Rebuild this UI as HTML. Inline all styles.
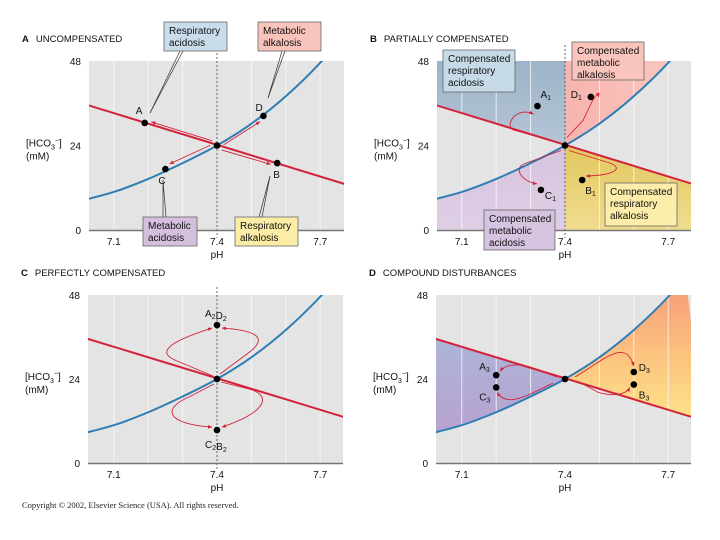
<!DOCTYPE html>
<html><head><meta charset="utf-8"><style>
body{margin:0;background:#fff;}
svg{display:block;font-family:"Liberation Sans",sans-serif;}
</style></head><body>
<svg id="fig" width="720" height="540" viewBox="0 0 720 540">
<defs>
<marker id="ah" viewBox="0 0 10 10" refX="9" refY="5" markerWidth="5" markerHeight="5" orient="auto"><path d="M0,1 L10,5 L0,9 z" fill="#d3223a"/></marker>
<linearGradient id="gBlueD" x1="0" y1="0" x2="0" y2="1"><stop offset="0" stop-color="#a7c0dd"/><stop offset="1" stop-color="#b7a2d0"/></linearGradient>
<linearGradient id="gOrD" x1="0" y1="0" x2="0" y2="1"><stop offset="0" stop-color="#f7957a"/><stop offset="0.5" stop-color="#fbc27e"/><stop offset="1" stop-color="#feeb8c"/></linearGradient>
<linearGradient id="gPinkB" x1="0" y1="0" x2="1" y2="0"><stop offset="0" stop-color="#f6948e"/><stop offset="1" stop-color="#f9c9c2"/></linearGradient>
<linearGradient id="gBlueB" x1="0" y1="0" x2="0" y2="1"><stop offset="0" stop-color="#9db3c8"/><stop offset="1" stop-color="#b4c6d6"/></linearGradient>
<linearGradient id="gYelB" x1="0" y1="0" x2="0" y2="1"><stop offset="0" stop-color="#e3c860"/><stop offset="1" stop-color="#efdc8e"/></linearGradient>
<linearGradient id="gPurB" x1="0" y1="0" x2="0" y2="1"><stop offset="0" stop-color="#cdb6d6"/><stop offset="1" stop-color="#e0d1e6"/></linearGradient>
</defs>
<g id="root"></g>
<text x="22" y="508" font-family="Liberation Serif, serif" font-size="8.5" fill="#222">Copyright © 2002, Elsevier Science (USA).  All rights reserved.</text>
</svg>
<script>
// ---- data ----
const phTicks = [7.1, 7.4, 7.7];
const gridPH = [7.1, 7.2, 7.3, 7.5, 7.6, 7.7];
const yTicks = [0, 24, 48];
const isobarPH = [7.0, 7.1, 7.2, 7.3, 7.4, 7.5, 7.6, 7.7, 7.75];
const isobarHCO3 = [8.2, 10.8, 14.5, 19.0, 24, 30.2, 38.0, 47.5, 53.7];
const bufferPH = [7.0, 7.8];
const bufferHCO3 = [36.2, 12.2];
const normalPH = 7.4, normalHCO3 = 24;
const ptsA = {labels:['A','B','C','D'], ph:[7.19,7.575,7.25,7.535], hco3:[30.4,19.0,17.3,32.4]};
const ptsB = {labels:['A1','B1','C1','D1'], ph:[7.32,7.45,7.33,7.475], hco3:[35.2,14.2,11.4,37.8]};
const ptsC = {labels:['A2D2','C2B2'], ph:[7.4,7.4], hco3:[39.4,9.4]};
const ptsD = {labels:['A3','B3','C3','D3'], ph:[7.2,7.6,7.2,7.6], hco3:[25.1,22.4,21.6,26.0]};

const NS='http://www.w3.org/2000/svg';
const root=document.getElementById('root');
function el(tag,attrs,parent){const e=document.createElementNS(NS,tag);for(const k in attrs)e.setAttribute(k,attrs[k]);(parent||root).appendChild(e);return e;}
const RED='#d3223a', BLUE='#2f7db5';

function makePanel(P){
  const g=el('g',{});
  
  
  const sx=ph=>P.c+(ph-7.4)*344;
  const sy=v=>P.b-v*(P.b-P.t)/48;
  P.sx=sx;P.sy=sy;
  const cp=el('clipPath',{id:'clip'+P.id},g);
  el('rect',{x:P.l,y:P.t,width:P.r-P.l,height:P.b-P.t},cp);
  const bg=el('rect',{x:P.l,y:P.t,width:P.r-P.l,height:P.b-P.t,fill:'#e4e4e4'},g);
  
  
  const inner=el('g',{'clip-path':'url(#clip'+P.id+')'},g);
  P.inner=inner;
  const iso=isobarPH.map((p,i)=>[sx(p),sy(isobarHCO3[i])]);
  const bl=[[sx(bufferPH[0]),sy(bufferHCO3[0])],[sx(bufferPH[1]),sy(bufferHCO3[1])]];
  P.iso=iso;P.bl=bl;
  const smooth=pts=>{let d='M'+pts[0][0]+','+pts[0][1];for(let i=1;i<pts.length;i++){const p0=pts[i-1],p1=pts[i];const pm=pts[i-2]||p0,pn=pts[i+1]||p1;const c1=[p0[0]+(p1[0]-pm[0])/6,p0[1]+(p1[1]-pm[1])/6],c2=[p1[0]-(pn[0]-p0[0])/6,p1[1]-(pn[1]-p0[1])/6];d+=' C'+c1+' '+c2+' '+p1;}return d;};
  P.isoD=smooth(iso);
  if(P.shade)P.shade(P,inner,sx,sy);
  gridPH.forEach(p=>{const l=el('line',{x1:sx(p),x2:sx(p),y1:P.t,y2:P.b,stroke:'#fafafa','stroke-width':1,opacity:0.8},inner);
    });
  if(P.dash){const d=el('line',{x1:sx(7.4),x2:sx(7.4),y1:P.dashTop||P.t-8,y2:P.b+8,stroke:'#444','stroke-width':0.8,'stroke-dasharray':'2,2'},g);
    }
  const bline=el('line',{x1:bl[0][0],y1:bl[0][1],x2:bl[1][0],y2:bl[1][1],stroke:RED,'stroke-width':2},inner);
  
  const ipath=el('path',{d:P.isoD,fill:'none',stroke:BLUE,'stroke-width':2},inner);
  
  const ax=el('line',{x1:P.l,x2:P.r,y1:P.b+0.5,y2:P.b+0.5,stroke:'#777','stroke-width':1.5},g);
  
  phTicks.forEach(p=>{const t=el('text',{x:sx(p),y:P.b+15,'font-size':10,'text-anchor':'middle',fill:'#111'},g);t.textContent=p.toFixed(1);
    });
  const xl=el('text',{x:sx(7.4),y:P.b+28,'font-size':10,'text-anchor':'middle',fill:'#111'},g);xl.textContent='pH';
  
  yTicks.forEach(v=>{const t=el('text',{x:P.l-8,y:sy(v)+4,'font-size':10,'text-anchor':'end',fill:'#111'},g);t.textContent=v;
    });
  const yl=el('text',{x:P.l-63,y:sy(24)+1,'font-size':10,fill:'#111'},g);
  yl.innerHTML='[HCO<tspan font-size="7" dy="3">3</tspan><tspan font-size="7" dy="-7">−</tspan><tspan dy="4">]</tspan>';
  
  const yl2=el('text',{x:P.l-63,y:sy(24)+14,'font-size':10,fill:'#111'},g);yl2.textContent='(mM)';
  
  const tt=el('text',{x:P.l-67,y:P.t-19,'font-size':9.5,fill:'#111'},g);
  tt.innerHTML='<tspan font-weight="bold">'+P.id+'</tspan><tspan dx="7">'+P.title+'</tspan>';
  
  P.g=g;
  return P;
}
function dot(P,ph,v,name){const c=el('circle',{cx:P.sx(ph),cy:P.sy(v),r:3.3,fill:'#000'},P.g);
  return c;}
function label(P,x,y,txt,name){const t=el('text',{x:x,y:y,'font-size':10,fill:'#111'},P.g);
  t.innerHTML=txt.replace(/(\d)/g,'<tspan font-size="7" dy="2">$1</tspan><tspan dy="-2"></tspan>');
  }
function arrow(P,d,name){const a=el('path',{d:d,fill:'none',stroke:RED,'stroke-width':0.9,'marker-end':'url(#ah)'},P.g);
  }
function box(P,x,y,w,h,fill,lines,name){const g=el('g',{},P.g);
  
  el('rect',{x:x,y:y,width:w,height:h,fill:fill,stroke:'#666','stroke-width':0.8},g);
  lines.forEach((s,i)=>{const t=el('text',{x:x+5,y:y+12+i*12,'font-size':10,fill:'#111'},g);t.textContent=s;});}
function pointer(P,x1,y1,x2,y2,name){const g=el('g',{},P.g);
  
  el('line',{x1:x1,y1:y1,x2:x2,y2:y2,stroke:'#333','stroke-width':0.7},g);
  el('line',{x1:x1+3,y1:y1,x2:x2,y2:y2,stroke:'#333','stroke-width':0.7},g);}

// ---- Panel A ----
const A=makePanel({id:'A',title:'UNCOMPENSATED',l:89,r:344,t:61,b:230,c:217,dash:true});
(function(){const cx=A.sx(normalPH),cy=A.sy(normalHCO3);
  ptsA.labels.forEach((L,i)=>{const px=A.sx(ptsA.ph[i]),py=A.sy(ptsA.hco3[i]);
    const dx=px-cx,dy=py-cy,len=Math.hypot(dx,dy),nx=-dy/len*3,ny=dx/len*3,ux=dx/len,uy=dy/len;
    arrow(A,`M${cx+ux*6+nx},${cy+uy*6+ny} L${px-ux*6+nx},${py-uy*6+ny}`,'arrow-to-'+L);
    dot(A,ptsA.ph[i],ptsA.hco3[i],'point-'+L);});
  dot(A,normalPH,normalHCO3,'normal-point');
  label(A,A.sx(ptsA.ph[0])-9,A.sy(ptsA.hco3[0])-9,'A','label-A');
  label(A,A.sx(ptsA.ph[1])-4,A.sy(ptsA.hco3[1])+15,'B','label-B');
  label(A,A.sx(ptsA.ph[2])-7,A.sy(ptsA.hco3[2])+15,'C','label-C');
  label(A,A.sx(ptsA.ph[3])-8,A.sy(ptsA.hco3[3])-5,'D','label-D');
  pointer(A,180,51,150,113,'pointer-resp-acidosis');
  box(A,164,22,63,29,'#c9dcea',['Respiratory','acidosis'],'box-respiratory-acidosis');
  pointer(A,282,51,268,98,'pointer-met-alkalosis');
  box(A,258,22,63,29,'#f8c3bb',['Metabolic','alkalosis'],'box-metabolic-alkalosis');
  pointer(A,163,217,163,180,'pointer-met-acidosis');
  box(A,143,217,54,29,'#d4c0dd',['Metabolic','acidosis'],'box-metabolic-acidosis');
  pointer(A,259,217,270,176,'pointer-resp-alkalosis');
  box(A,235,217,63,29,'#fbeda5',['Respiratory','alkalosis'],'box-respiratory-alkalosis');
})();

// ---- Panel B ----
const B=makePanel({id:'B',title:'PARTIALLY COMPENSATED',l:437,r:691,t:61,b:230,c:565,dash:true,dashTop:45,
 shade:function(P,g,sx,sy){const cx=sx(7.4),cy=sy(24),bl=P.bl;
  const yAt=x=>bl[0][1]+(bl[1][1]-bl[0][1])*(x-bl[0][0])/(bl[1][0]-bl[0][0]);
  el('path',{d:`M${P.l},${P.t} L${cx},${P.t} L${cx},${cy} L${P.l},${yAt(P.l)} Z`,fill:'url(#gBlueB)'},g);
  el('path',{d:`M${P.r},${yAt(P.r)} L${cx},${cy} L${cx},${P.b} L${P.r},${P.b} Z`,fill:'url(#gYelB)'},g);
  el('clipPath',{id:'leftB'},g).appendChild(el('rect',{x:P.l,y:P.t,width:cx-P.l,height:P.b-P.t},null));
  el('path',{d:P.isoD+` L${P.r+50},${P.b+20} L${P.l-50},${P.b+20} Z`,fill:'url(#gPurB)','clip-path':'url(#leftB)'},g);
  el('clipPath',{id:'rightB'},g).appendChild(el('rect',{x:cx,y:P.t,width:P.r-cx,height:P.b-P.t},null));
  el('path',{d:P.isoD+` L${P.l-50},${P.t-50} Z`,fill:'url(#gPinkB)','clip-path':'url(#rightB)'},g);
 }});
(function(){const cx=B.sx(7.4),cy=B.sy(24);const p=i=>[B.sx(ptsB.ph[i]),B.sy(ptsB.hco3[i])];
  let a=p(0);arrow(B,`M${cx-6},${cy-3} L${cx-50},${cy-15} C${cx-62},${cy-18} ${cx-50},${cy-40} ${a[0]-4},${a[1]+8}`,'arrow-A1');
  let d=p(3);arrow(B,`M${cx+2},${cy-8} L${cx+18},${cy-25} C${cx+26},${cy-42} ${cx+32},${cy-56} ${d[0]+8},${d[1]}`,'arrow-D1');
  let b=p(1);arrow(B,`M${cx+4},${cy+5} L${cx+40},${cy+16} C${cx+62},${cy+22} ${cx+50},${cy+30} ${b[0]+4},${b[1]-4}`,'arrow-B1');
  let c=p(2);arrow(B,`M${cx-4},${cy+5} L${cx-40},${cy+18} C${cx-52},${cy+22} ${cx-44},${cy+36} ${c[0]-4},${c[1]-6}`,'arrow-C1');
  ptsB.labels.forEach((L,i)=>dot(B,ptsB.ph[i],ptsB.hco3[i],'point-'+L));
  dot(B,normalPH,normalHCO3,'normal-point');
  label(B,a[0]+3,a[1]-8,'A1','label-A1');label(B,d[0]-20,d[1]+1,'D1','label-D1');
  label(B,b[0]+3,b[1]+14,'B1','label-B1');label(B,c[0]+4,c[1]+9,'C1','label-C1');
  box(B,443,50,72,42,'#c6dae8',['Compensated','respiratory','acidosis'],'box-comp-resp-acidosis');
  box(B,572,42,72,38,'#f9c4bb',['Compensated','metabolic','alkalosis'],'box-comp-met-alkalosis');
  box(B,605,183,72,43,'#fcedaa',['Compensated','respiratory','alkalosis'],'box-comp-resp-alkalosis');
  box(B,484,210,71,40,'#d6c3df',['Compensated','metabolic','acidosis'],'box-comp-met-acidosis');
})();

// ---- Panel C ----
const C=makePanel({id:'C',title:'PERFECTLY COMPENSATED',l:88,r:343,t:295,b:463,c:217,dash:true});
(function(){const cx=C.sx(7.4),cy=C.sy(24);const a=[C.sx(ptsC.ph[0]),C.sy(ptsC.hco3[0])],c=[C.sx(ptsC.ph[1]),C.sy(ptsC.hco3[1])];
  arrow(C,`M${cx-4},${cy-3} L${cx-40},${cy-18} C${cx-60},${cy-26} ${cx-52},${cy-36} ${a[0]-5},${a[1]+3}`,'arrow-up-left');
  arrow(C,`M${cx+3},${cy-5} L${cx+30},${cy-25} C${cx+48},${cy-38} ${cx+48},${cy-48} ${a[0]+5},${a[1]+3}`,'arrow-up-right');
  arrow(C,`M${cx-3},${cy+5} L${cx-28},${cy+18} C${cx-56},${cy+30} ${cx-50},${cy+45} ${c[0]-5},${c[1]-3}`,'arrow-down-left');
  arrow(C,`M${cx+4},${cy+3} L${cx+32},${cy+10} C${cx+54},${cy+16} ${cx+52},${cy+32} ${c[0]+5},${c[1]-3}`,'arrow-down-right');
  dot(C,ptsC.ph[0],ptsC.hco3[0],'point-A2D2');dot(C,ptsC.ph[1],ptsC.hco3[1],'point-C2B2');dot(C,normalPH,normalHCO3,'normal-point');
  label(C,a[0]-12,a[1]-8,'A2D2','label-A2D2');label(C,c[0]-12,c[1]+18,'C2B2','label-C2B2');
})();

// ---- Panel D ----
const D=makePanel({id:'D',title:'COMPOUND DISTURBANCES',l:436,r:691,t:295,b:463,c:565,dash:false,
 shade:function(P,g,sx,sy){const cx=sx(7.4);
  el('clipPath',{id:'leftD'},g).appendChild(el('rect',{x:P.l,y:P.t,width:cx-P.l,height:P.b-P.t},null));
  el('clipPath',{id:'rightD'},g).appendChild(el('rect',{x:cx,y:P.t,width:P.r-cx,height:P.b-P.t},null));
  const bl=P.bl;
  const iso=P.isoD;
  el('path',{d:iso+` L${bl[1][0]},${bl[1][1]} L${bl[0][0]},${bl[0][1]} Z`,fill:'url(#gBlueD)','clip-path':'url(#leftD)'},g);
  el('path',{d:iso+` L${bl[1][0]},${bl[1][1]} L${bl[0][0]},${bl[0][1]} Z`,fill:'url(#gOrD)','clip-path':'url(#rightD)'},g);
 }});
(function(){const p=i=>[D.sx(ptsD.ph[i]),D.sy(ptsD.hco3[i])];const cx=D.sx(7.4),cy=D.sy(24);
  const a=p(0),b=p(1),c=p(2),d=p(3);
  arrow(D,`M${cx-8},${cy-2} L${a[0]+40},${a[1]-6} C${a[0]+25},${a[1]-12} ${a[0]+10},${a[1]-12} ${a[0]+4},${a[1]-4}`,'arrow-A3');
  arrow(D,`M${cx-12},${cy+4} C${cx-40},${cy+18} ${c[0]+10},${c[1]+20} ${c[0]+1},${c[1]+5}`,'arrow-C3');
  arrow(D,`M${cx+10},${cy-2} C${cx+40},${cy-20} ${d[0]-8},${d[1]-34} ${d[0]},${d[1]-6}`,'arrow-D3');
  arrow(D,`M${cx+14},${cy+3} L${b[0]-35},${b[1]+8} C${b[0]-20},${b[1]+12} ${b[0]-8},${b[1]+10} ${b[0]-4},${b[1]+3}`,'arrow-B3');
  ptsD.labels.forEach((L,i)=>dot(D,ptsD.ph[i],ptsD.hco3[i],'point-'+L));
  dot(D,normalPH,normalHCO3,'normal-point');
  label(D,a[0]-17,a[1]-5,'A3','label-A3');label(D,c[0]-17,c[1]+13,'C3','label-C3');
  label(D,d[0]+5,d[1]-1,'D3','label-D3');label(D,b[0]+5,b[1]+14,'B3','label-B3');
})();
</script>
</body></html>
